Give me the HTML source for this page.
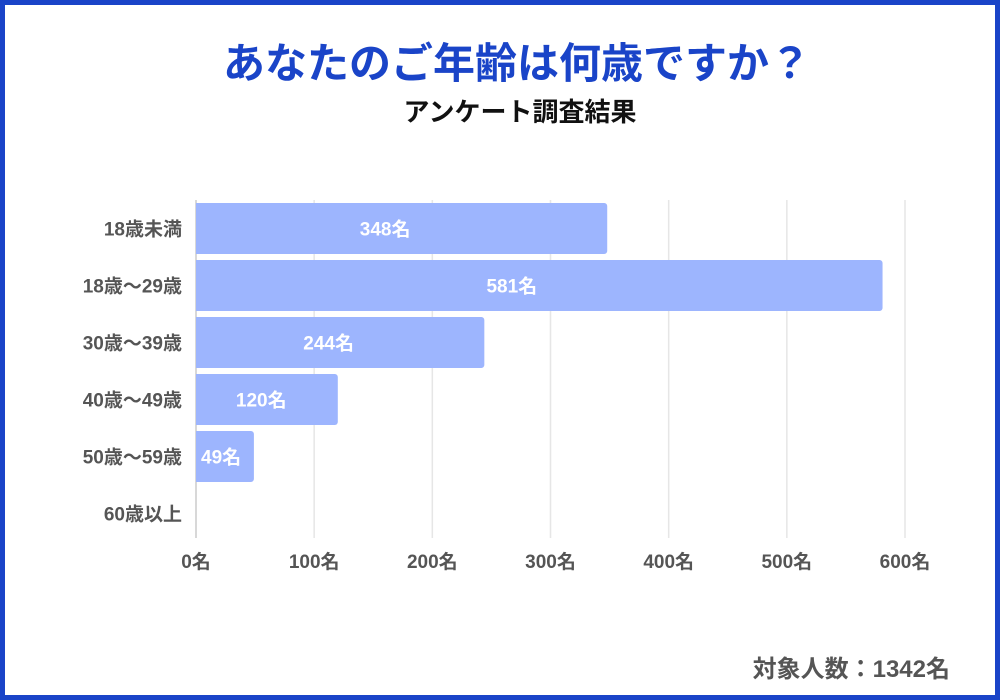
<!DOCTYPE html>
<html><head><meta charset="utf-8"><style>
body{margin:0;width:1000px;height:700px;overflow:hidden;background:#fff;font-family:"Liberation Sans","Noto Sans CJK JP",sans-serif;}
#frame{position:absolute;left:0;top:0;width:1000px;height:700px;box-sizing:border-box;border:5px solid #1a44c8;}
</style></head><body>
<div id="frame"></div>
<svg width="1000" height="700" style="position:absolute;left:0;top:0">
<text x="517" y="78" text-anchor="middle" font-size="42" font-weight="bold" fill="#1a44c8">あなたのご年齢は何歳ですか？</text>
<text x="520" y="121" text-anchor="middle" font-size="26" font-weight="bold" fill="#111">アンケート調査結果</text>
<g id="grid"></g><g id="bars"></g><g id="ylabels"></g><g id="xlabels"></g>
<text x="950" y="677" text-anchor="end" font-size="24" font-weight="bold" fill="#555">対象人数：1342名</text>
</svg>
<script>
const categories=["18歳未満","18歳〜29歳","30歳〜39歳","40歳〜49歳","50歳〜59歳","60歳以上"];
const values=[348,581,244,120,49,0];
const ticks=[0,100,200,300,400,500,600];
const NS="http://www.w3.org/2000/svg";
const x0=196,x1=905,maxV=600,top0=200,rowH=57,barH=51;
const xs=v=>x0+(x1-x0)*v/maxV;
const yc=i=>top0+rowH*i+rowH/2;
function mk(t,a,p){const e=document.createElementNS(NS,t);for(const k in a)e.setAttribute(k,a[k]);p.appendChild(e);return e;}
const grid=document.getElementById('grid'),bars=document.getElementById('bars'),yl=document.getElementById('ylabels'),xl=document.getElementById('xlabels');
ticks.forEach(t=>{
 const l=mk('line',{x1:xs(t),x2:xs(t),y1:top0,y2:top0+rowH*6-4,stroke:t===0?'#ccc':'#e6e6e6','stroke-width':1.5},grid);
 
 
 const tx=mk('text',{x:xs(t),y:568,'text-anchor':'middle','font-size':19,'font-weight':'bold',fill:'#555'},xl);
 tx.textContent=t+'名';
 
 
});
categories.forEach((c,i)=>{
 const cy=yc(i);
 const lt=mk('text',{x:182,y:cy+7,'text-anchor':'end','font-size':19,'font-weight':'bold',fill:'#555'},yl);
 lt.textContent=c;
 
 
 const v=values[i];
 if(v>0){
  const w=xs(v)-x0;
  const r=mk('path',{d:`M${x0},${cy-barH/2}h${w-3}a3,3 0 0 1 3,3v${barH-6}a3,3 0 0 1 -3,3h${-(w-3)}z`,fill:'#9db5fe'},bars);
  
  
  const vt=mk('text',{x:w<100?x0+5:x0+w*0.46,y:cy+7,'text-anchor':w<100?'start':'middle','font-size':19,'font-weight':'bold',fill:'#fff'},bars);
  vt.textContent=v+'名';
  
  
 }
});
</script>
</body></html>
